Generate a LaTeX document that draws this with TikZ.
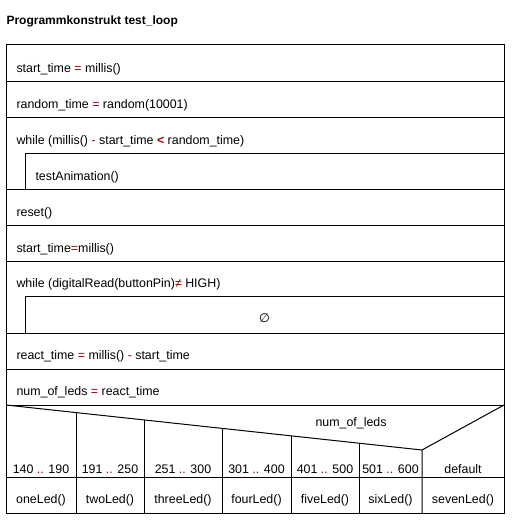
\documentclass[tikz,border=0pt]{standalone}
\usepackage{fontspec}
\setmainfont{Liberation Sans}
\newfontfamily\symfont{DejaVu Sans}
\usepackage{xcolor}
\usepackage{tikz}
\definecolor{opred}{RGB}{153,0,0}
\newcommand{\op}[1]{\textcolor{opred}{#1}}

\begin{document}
\begin{tikzpicture}[x=1pt, y=-1pt, line width=1pt,
    stmt/.style={anchor=base west, inner sep=0pt, font=\fontsize{12.4}{14}\selectfont},
    cell/.style={anchor=base, inner sep=0pt, font=\fontsize{12.4}{14}\selectfont}]
      \useasboundingbox (0,0) rectangle (516,527);
      \node[stmt, font=\bfseries\fontsize{12}{14}\selectfont] (Title) at (6,25) {Programmkonstrukt test\_loop};

      % frame and rows
      \draw (6,45) rectangle (504,513);
      \draw (6,81) -- (504,81) (6,117) -- (504,117)
            (25,153) -- (504,153) (25,153) -- (25,189)
            (6,189) -- (504,189) (6,225) -- (504,225) (6,261) -- (504,261)
            (25,296) -- (504,296) (25,296) -- (25,333)
            (6,333) -- (504,333) (6,369) -- (504,369) (6,405) -- (504,405)
            (6,477) -- (504,477);

      \node[stmt] (Start1) at (16,72) {start\_time \op{=} millis()};
      \node[stmt] (Random) at (16,108) {random\_time \op{=} random(10001)};
      \node[stmt] (While1) at (16,144) {while (millis() \op{-} start\_time \op{\textbf{<}} random\_time)};
        \node[stmt] (Anim) at (35,180) {testAnimation()};
      \node[stmt] (Reset) at (16,216) {reset()};
      \node[stmt] (Start2) at (16,252) {start\_time\op{=}millis()};
      \node[stmt] (While2) at (16,287) {while (digitalRead(buttonPin)\op{≠} HIGH)};
        \node[cell] (Empty) at (264.5,322) {\symfont\itshape ∅};
      \node[stmt] (React) at (16,359) {react\_time \op{=} millis() \op{-} start\_time};
      \node[stmt] (NumLeds) at (16,395) {num\_of\_leds \op{=} react\_time};

      % case
      \coordinate (CaseL) at (6,405);
      \coordinate (CaseM) at (422,450);
      \coordinate (CaseR) at (504,405);
      \draw (CaseL) -- (CaseM) -- (CaseR) (CaseM) -- (422,513);
      \foreach \cx in {76,144,222,291,359}
        \draw (\cx,{405+45*(\cx-6)/416}) -- (\cx,513);
      \node[cell] (CaseVar) at (351,426) {num\_of\_leds};

      \foreach \i/\cx/\range/\call in {1/41/140 \op{..} 190/oneLed(),
                                       2/110/191 \op{..} 250/twoLed(),
                                       3/183/251 \op{..} 300/threeLed(),
                                       4/256.5/301 \op{..} 400/fourLed(),
                                       5/325/401 \op{..} 500/fiveLed(),
                                       6/390.5/501 \op{..} 600/sixLed(),
                                       7/463/default/sevenLed()} {
        \node[cell] (Range\i) at (\cx,473) {\range};
        \node[cell] (Call\i) at (\cx,503) {\call};
      }
\end{tikzpicture}
\end{document}
